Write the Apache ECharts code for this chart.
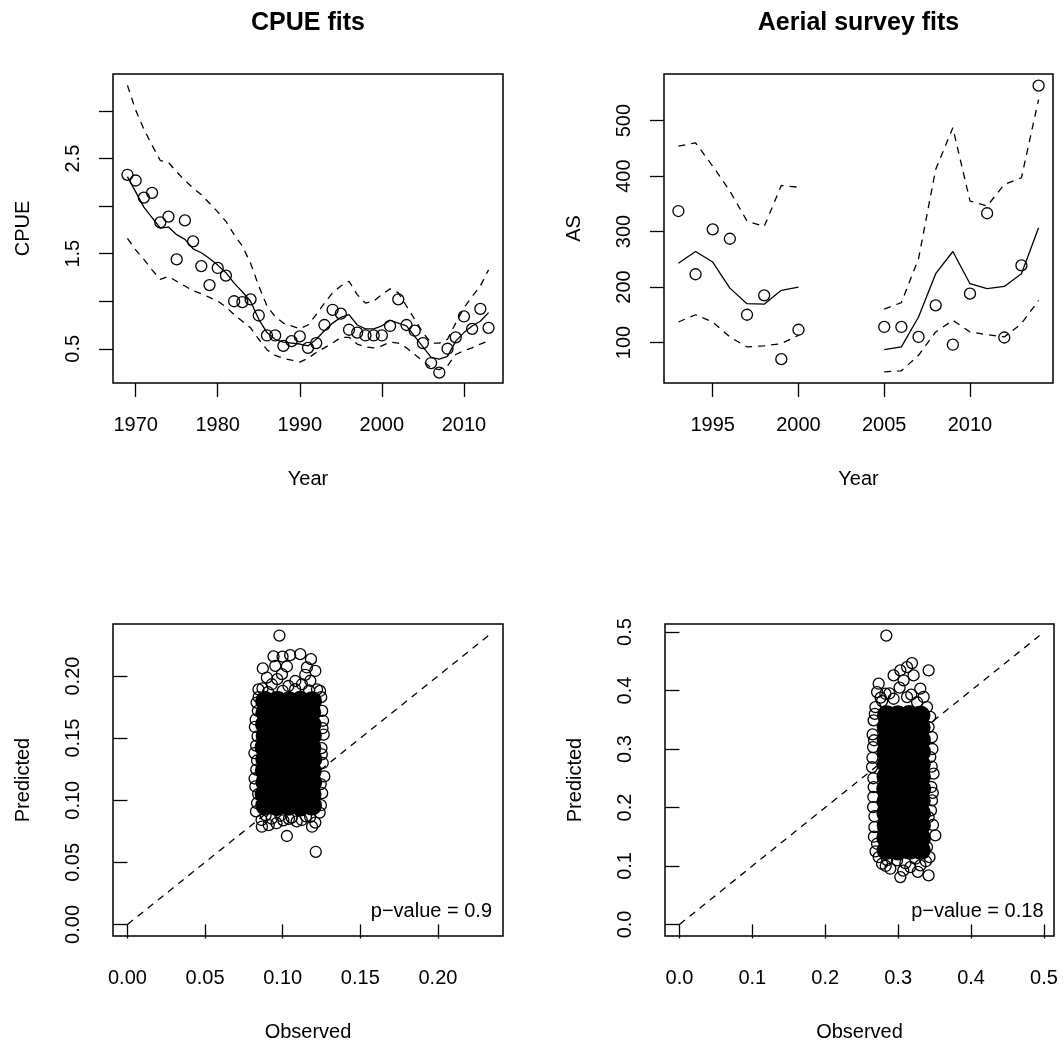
<!DOCTYPE html>
<html><head><meta charset="utf-8">
<script src="https://cdn.jsdelivr.net/npm/echarts@6/dist/echarts.min.js"></script>
<style>html,body{margin:0;padding:0;background:#fff}#c{width:1064px;height:1044px}</style>
</head><body><div id="c"></div>
<script>
// ---------- CPUE fits ----------
const cpueYears = [1969,1970,1971,1972,1973,1974,1975,1976,1977,1978,1979,1980,1981,1982,1983,1984,1985,1986,1987,1988,1989,1990,1991,1992,1993,1994,1995,1996,1997,1998,1999,2000,2001,2002,2003,2004,2005,2006,2007,2008,2009,2010,2011,2012,2013];
const cpueObs = [2.33,2.27,2.09,2.14,1.83,1.89,1.44,1.85,1.63,1.37,1.17,1.35,1.27,1.00,0.99,1.02,0.85,0.64,0.64,0.53,0.58,0.63,0.51,0.56,0.75,0.91,0.87,0.70,0.67,0.64,0.64,0.64,0.74,1.02,0.75,0.69,0.56,0.35,0.25,0.50,0.62,0.84,0.71,0.92,0.72];
const cpueFit = [2.31,2.15,1.99,1.88,1.77,1.78,1.70,1.65,1.55,1.51,1.45,1.38,1.30,1.19,1.10,1.00,0.81,0.67,0.60,0.57,0.56,0.55,0.53,0.60,0.69,0.77,0.83,0.86,0.75,0.71,0.71,0.74,0.80,0.77,0.74,0.63,0.52,0.41,0.39,0.42,0.58,0.67,0.74,0.79,0.88];
const cpueUpper = [3.27,3.01,2.81,2.64,2.48,2.46,2.36,2.27,2.19,2.12,2.03,1.94,1.84,1.70,1.58,1.40,1.16,0.95,0.84,0.77,0.74,0.71,0.75,0.86,0.98,1.09,1.16,1.21,1.07,0.98,1.00,1.07,1.13,1.09,0.95,0.81,0.67,0.56,0.56,0.60,0.77,0.93,1.05,1.16,1.33];
const cpueLower = [1.66,1.54,1.44,1.33,1.23,1.26,1.21,1.16,1.11,1.08,1.04,1.00,0.94,0.86,0.79,0.72,0.60,0.49,0.43,0.40,0.38,0.36,0.40,0.46,0.51,0.56,0.62,0.62,0.55,0.52,0.51,0.53,0.57,0.56,0.51,0.44,0.37,0.30,0.28,0.32,0.44,0.48,0.51,0.55,0.58];
const cpueXTicks = [1970,1980,1990,2000,2010];
const cpueYTicks = [0.5,1.0,1.5,2.0,2.5,3.0];
const cpueYLabels = [0.5,1.5,2.5];

// ---------- Aerial survey fits ----------
const asYears = [1993,1994,1995,1996,1997,1998,1999,2000,2005,2006,2007,2008,2009,2010,2011,2012,2013,2014];
const asObs = [337,223,304,287,150,185,70,123,128,128,110,167,96,188,333,109,239,563];
const asFit = [243,264,245,198,170,169,194,200,87,92,146,224,264,206,197,201,224,307];
const asUpper = [454,460,418,373,319,309,383,380,160,172,251,412,487,355,346,385,397,538];
const asLower = [137,150,137,110,92,94,98,113,47,49,77,119,140,119,114,110,134,176];
const asXTicks = [1995,2000,2005,2010];
const asYTicks = [100,200,300,400,500];

// ---------- CPUE observed vs predicted ----------
const cpueCoreObs = [0.0887,0.0962,0.1041,0.1115,0.1189, 0.0884,0.0966,0.1038,0.1118,0.1186, 0.0889,0.0961,0.1043,0.1114,0.1190, 0.0885,0.0965,0.1039,0.1117,0.1187, 0.0888,0.0963,0.1042,0.1116,0.1191, 0.0883,0.0967,0.1040,0.1113,0.1185, 0.0890,0.0960,0.1037,0.1119,0.1188, 0.0886,0.0964,0.1044,0.1115,0.1186, 0.0889,0.0962,0.1039,0.1118,0.1184, 0.0887,0.0966,0.1041,0.1114,0.1189];
const cpueCorePred = [0.0958,0.0952,0.0956,0.0951,0.0957, 0.1049,0.1053,0.1047,0.1052,0.1048, 0.1144,0.1140,0.1146,0.1142,0.1145, 0.1237,0.1240,0.1235,0.1239,0.1236, 0.1331,0.1328,0.1333,0.1329,0.1332, 0.1424,0.1427,0.1422,0.1426,0.1423, 0.1519,0.1516,0.1521,0.1517,0.1520, 0.1611,0.1614,0.1609,0.1613,0.1610, 0.1707,0.1704,0.1709,0.1705,0.1708, 0.1799,0.1802,0.1797,0.1801,0.1798];
const cpueEdgeObs = [0.0979,0.0941,0.0999,0.1048,0.1113,0.1182,0.0872,0.0952,0.1027,0.1156,0.1210,0.0898,0.0995,0.1081,0.1178,0.0844,0.0930,0.1037,0.1124,0.1221,0.0965,0.1145,
  0.0832,0.0826,0.0838,0.0818,0.0830,0.0824,0.0835,0.0821,0.0829,0.0819,0.0840,0.0835,0.0842,0.0828,0.0845,
  0.1248,0.1254,0.1264,0.1250,0.1258,0.1268,0.1254,0.1246,0.1260,0.1240,0.1252,0.1245,0.1238,0.1256,
  0.0870,0.1000,0.1080,0.1170,0.0905,
  0.0864,0.0929,0.1004,0.1058,0.1123,0.1177,0.0866,0.1189,0.0960,0.1090,0.0910,0.0890,0.0985,0.1040,0.1150,0.1210,
  0.1027,0.1213];
const cpueEdgePred = [0.2326,0.2158,0.2156,0.2168,0.2176,0.2136,0.2061,0.2082,0.2077,0.2069,0.2041,0.1988,0.2015,0.1960,0.1962,0.1893,0.1934,0.1920,0.1934,0.1893,0.1975,0.2010,
  0.1786,0.1650,0.1515,0.1380,0.1246,0.1111,0.0977,0.1590,0.1440,0.1175,0.1720,0.1320,0.1050,0.0910,0.1830,
  0.1830,0.1720,0.1529,0.1420,0.1300,0.1192,0.1057,0.0960,0.1640,0.1880,0.1370,0.1130,0.0900,0.1580,
  0.1900,0.1880,0.1895,0.1885,0.1870,
  0.0841,0.0852,0.0838,0.0860,0.0841,0.0866,0.0787,0.0787,0.0815,0.0830,0.0800,0.0880,0.0875,0.0850,0.0870,0.0820,
  0.0712,0.0585];
const cpueDiag = [0, 0.2326];
const cpueOPTicks = [0.00,0.05,0.10,0.15,0.20];

// ---------- AS observed vs predicted ----------
const asCoreObs = [0.2841,0.2996,0.3158,0.3311, 0.2838,0.3000,0.3155,0.3315, 0.2843,0.2995,0.3159,0.3312, 0.2839,0.2999,0.3154,0.3314, 0.2842,0.2997,0.3157,0.3310, 0.2837,0.3001,0.3156,0.3316, 0.2840,0.2996,0.3153,0.3313, 0.2844,0.2998,0.3158,0.3311, 0.2839,0.3002,0.3155,0.3314, 0.2841,0.2995,0.3157,0.3312, 0.2843,0.2999,0.3154,0.3309, 0.2846,0.2997,0.3151,0.3306];
const asCorePred = [0.1272,0.1266,0.1275,0.1268, 0.1481,0.1478,0.1484,0.1477, 0.1689,0.1693,0.1686,0.1691, 0.1902,0.1897,0.1904,0.1899, 0.2108,0.2113,0.2106,0.2111, 0.2321,0.2318,0.2324,0.2317, 0.2529,0.2533,0.2527,0.2531, 0.2742,0.2738,0.2745,0.2739, 0.2948,0.2953,0.2946,0.2951, 0.3161,0.3157,0.3163,0.3158, 0.3368,0.3372,0.3366,0.3371, 0.3579,0.3576,0.3582,0.3574];
const asEdgeObs = [0.2838,0.3418,0.3190,0.3122,0.3030,0.2938,0.3212,0.2733,0.3075,0.3304,0.2711,0.2825,0.3396,0.2688,0.2938,0.3122,0.3260,0.2780,0.3020,
  0.2760,0.2880,0.3180,0.3350,
  0.3418,0.3464,0.3441,0.3486,0.3464,0.3418,0.3510,0.3396,0.3470,0.3455,0.3478,0.3440,0.3460,0.3450,0.3430,0.3475,
  0.2664,0.2656,0.2642,0.2664,0.2656,0.2674,0.2711,0.2733,0.2650,0.2648,0.2660,0.2668,0.2680,0.2670,0.2660,0.2675,0.2690,
  0.2779,0.2893,0.3030,0.3167,0.3304,0.3418,0.2985,0.3236,0.2850,0.3100,0.2830,0.3070,0.3270,0.3380];
const asEdgePred = [0.4940,0.4345,0.4470,0.4401,0.4345,0.4259,0.4259,0.4117,0.4174,0.4032,0.3974,0.3946,0.3717,0.3717,0.3860,0.3888,0.3800,0.3820,0.4050,
  0.3880,0.3950,0.3930,0.3890,
  0.3375,0.3204,0.2862,0.2578,0.2121,0.1835,0.1522,0.1322,0.3000,0.2350,0.1700,0.3550,0.2700,0.1950,0.1150,0.2250,
  0.3490,0.3033,0.2691,0.2349,0.2007,0.1664,0.1380,0.1151,0.3250,0.2850,0.2180,0.1500,0.3600,0.3150,0.2500,0.1850,0.1250,
  0.1038,0.0953,0.0809,0.0980,0.1009,0.0838,0.1095,0.1124,0.1100,0.1050,0.1000,0.0920,0.0900,0.1080];
const asDiag = [0, 0.494];
const asOPTicks = [0.0,0.1,0.2,0.3,0.4,0.5];

// ---------- helpers ----------
const FONT = '"Liberation Sans", Arial, Helvetica, sans-serif';
const BLACK = '#000';
function pairs(xs, ys) {
  const out = [];
  for (let i = 0; i < xs.length; i++) {
    if (i > 0 && xs[i] - xs[i-1] > 1) out.push([(xs[i] + xs[i-1]) / 2, '-']);
    out.push([xs[i], ys[i]]);
  }
  return out;
}
function xAx(gi, min, max, ticks, labels, fmt, name) {
  return {
    type: 'value', gridIndex: gi, min: min, max: max,
    name: name, nameLocation: 'middle', nameGap: 86,
    nameTextStyle: {fontFamily: FONT, fontSize: 20, color: BLACK},
    axisLine: {show: false},
    axisTick: {show: true, inside: false, length: 14, lineStyle: {color: BLACK, width: 1.3}, customValues: ticks},
    axisLabel: {show: true, margin: 32, fontFamily: FONT, fontSize: 20, color: BLACK, customValues: labels, formatter: fmt},
    splitLine: {show: false}
  };
}
function yAx(gi, min, max, ticks, labels, fmt, name) {
  return {
    type: 'value', gridIndex: gi, min: min, max: max,
    name: name, nameLocation: 'middle', nameGap: 80, nameRotate: 90,
    nameTextStyle: {fontFamily: FONT, fontSize: 20, color: BLACK},
    axisLine: {show: false},
    axisTick: {show: true, inside: false, length: 14, lineStyle: {color: BLACK, width: 1.3}, customValues: ticks},
    axisLabel: {show: true, rotate: 90, margin: 30, fontFamily: FONT, fontSize: 20, color: BLACK, customValues: labels, formatter: fmt},
    splitLine: {show: false}
  };
}
function gridBox(left, top, width, height) {
  return {left: left, top: top, width: width, height: height, show: true, borderColor: BLACK, borderWidth: 1.5, backgroundColor: 'transparent'};
}
function lineS(i, data, dashed) {
  return {type: 'line', xAxisIndex: i, yAxisIndex: i, data: data, symbol: 'none', silent: true,
    connectNulls: false, lineStyle: {color: BLACK, width: 1.3, opacity: 1, type: dashed ? [7, 6] : 'solid'}};
}
function hollow(i, data) {
  return {type: 'scatter', xAxisIndex: i, yAxisIndex: i, data: data, symbol: 'circle', symbolSize: 11, silent: true,
    itemStyle: {color: 'rgba(0,0,0,0)', borderColor: BLACK, borderWidth: 1.3, opacity: 1}};
}
function filled(i, data) {
  return {type: 'scatter', xAxisIndex: i, yAxisIndex: i, data: data, symbol: 'circle', symbolSize: 20, silent: true,
    itemStyle: {color: BLACK, borderColor: BLACK, borderWidth: 0, opacity: 1}};
}
const f1 = v => Number(v).toFixed(1);
const f2 = v => Number(v).toFixed(2);
const f0 = v => String(Math.round(v));

const chart = echarts.init(document.getElementById('c'), null, {renderer: 'canvas'});
chart.setOption({
  animation: false,
  backgroundColor: '#fff',
  grid: [
    gridBox(113, 74, 390, 309),
    gridBox(664, 74, 389, 309),
    gridBox(113, 624, 390, 312),
    gridBox(665, 624, 389, 312)
  ],
  xAxis: [
    xAx(0, 1967.24, 2014.76, cpueXTicks, cpueXTicks, f0, 'Year'),
    xAx(1, 1992.16, 2014.84, asXTicks, asXTicks, f0, 'Year'),
    xAx(2, -0.0093, 0.2419, cpueOPTicks, cpueOPTicks, f2, 'Observed'),
    xAx(3, -0.0198, 0.5138, asOPTicks, asOPTicks, f1, 'Observed')
  ],
  yAxis: [
    yAx(0, 0.14, 3.39, cpueYTicks, cpueYLabels, f1, 'CPUE'),
    yAx(1, 27, 584, asYTicks, asYTicks, f0, 'AS'),
    yAx(2, -0.0093, 0.2419, cpueOPTicks, cpueOPTicks, f2, 'Predicted'),
    yAx(3, -0.0198, 0.5138, asOPTicks, asOPTicks, f1, 'Predicted')
  ],
  graphic: [
    {type: 'text', x: 308, y: 23, style: {text: 'CPUE fits', font: 'bold 25px ' + FONT, fill: BLACK, align: 'center', verticalAlign: 'middle'}},
    {type: 'text', x: 858.5, y: 23, style: {text: 'Aerial survey fits', font: 'bold 25px ' + FONT, fill: BLACK, align: 'center', verticalAlign: 'middle'}},
    {type: 'text', x: 492, y: 911, style: {text: 'p\u2212value = 0.9', font: '20px ' + FONT, fill: BLACK, align: 'right', verticalAlign: 'middle'}},
    {type: 'text', x: 1043.5, y: 911, style: {text: 'p\u2212value = 0.18', font: '20px ' + FONT, fill: BLACK, align: 'right', verticalAlign: 'middle'}}
  ],
  series: [
    lineS(0, pairs(cpueYears, cpueUpper), true),
    lineS(0, pairs(cpueYears, cpueLower), true),
    lineS(0, pairs(cpueYears, cpueFit), false),
    hollow(0, pairs(cpueYears, cpueObs)),
    lineS(1, pairs(asYears, asUpper), true),
    lineS(1, pairs(asYears, asLower), true),
    lineS(1, pairs(asYears, asFit), false),
    hollow(1, asYears.map((y, k) => [y, asObs[k]])),
    lineS(2, [[cpueDiag[0], cpueDiag[0]], [cpueDiag[1], cpueDiag[1]]], true),
    filled(2, cpueCoreObs.map((x, k) => [x, cpueCorePred[k]])),
    hollow(2, cpueEdgeObs.map((x, k) => [x, cpueEdgePred[k]])),
    lineS(3, [[asDiag[0], asDiag[0]], [asDiag[1], asDiag[1]]], true),
    filled(3, asCoreObs.map((x, k) => [x, asCorePred[k]])),
    hollow(3, asEdgeObs.map((x, k) => [x, asEdgePred[k]]))
  ]
});
</script>
</body></html>
